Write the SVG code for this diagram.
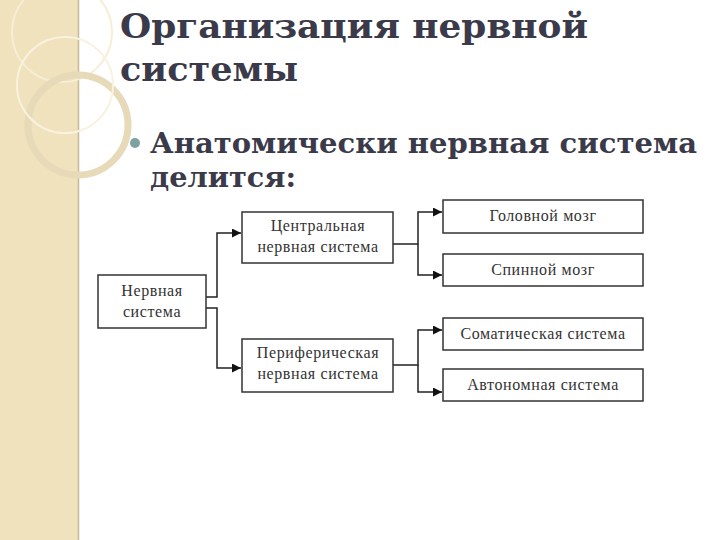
<svg xmlns="http://www.w3.org/2000/svg" width="720" height="540" viewBox="0 0 720 540">
<style>
.t{font-family:"DejaVu Serif","Liberation Serif",serif;font-weight:bold;fill:#3a3a4a}
.b{fill:#fff;stroke:#333;stroke-width:1.5}
.l{font-family:"Liberation Serif",serif;font-size:16px;fill:#333;text-anchor:middle;letter-spacing:0.6px}
.c{fill:none;stroke:#222;stroke-width:1.5}
</style>
<defs><marker id="a" viewBox="0 0 10 10" refX="10" refY="5" markerWidth="10" markerHeight="9" markerUnits="userSpaceOnUse" orient="auto"><path d="M0,0L10,5L0,10z" fill="#111"/></marker></defs>
<rect width="720" height="540" fill="#fff"/>
<g id="sidebar">
<rect width="78" height="540" fill="#efe2bd"/>
<line x1="78.5" y1="0" x2="78.5" y2="540" stroke="#c9b89a" stroke-width="1.5"/>
<circle cx="62" cy="32" r="50" fill="none" stroke="#f6eed6" stroke-width="2"/>
<circle cx="78" cy="125" r="50" fill="none" stroke="#e6dab9" stroke-width="7"/>
<circle cx="65" cy="85" r="48" fill="none" stroke="#f9f2e0" stroke-width="2"/>
</g>
<text class="t" x="120" y="38" font-size="34" textLength="468" lengthAdjust="spacingAndGlyphs">Организация нервной</text>
<text class="t" x="120" y="81" font-size="34" textLength="178" lengthAdjust="spacingAndGlyphs">системы</text>
<circle cx="135" cy="143" r="5" fill="#7fa0a0"/>
<text class="t" x="150" y="153" font-size="27" textLength="547" lengthAdjust="spacingAndGlyphs">Анатомически нервная система</text>
<text class="t" x="150" y="187" font-size="27" textLength="146" lengthAdjust="spacingAndGlyphs">делится:</text>
<g id="connectors">
<path class="c" d="M206,297H217V233H241" marker-end="url(#a)"/>
<path class="c" d="M206,308H217V368H241" marker-end="url(#a)"/>
<path class="c" d="M393,244H418V212H442" marker-end="url(#a)"/>
<path class="c" d="M418,244V275H442" marker-end="url(#a)"/>
<path class="c" d="M393,365H418V330H442" marker-end="url(#a)"/>
<path class="c" d="M418,365V392H442" marker-end="url(#a)"/>
</g>
<g id="n1"><rect class="b" x="98" y="275" width="108" height="53"/><text class="l" x="152" y="296">Нервная</text><text class="l" x="152" y="317">система</text></g>
<g id="n2"><rect class="b" x="242" y="212" width="151" height="51"/><text class="l" x="318" y="231">Центральная</text><text class="l" x="318" y="252">нервная система</text></g>
<g id="n3"><rect class="b" x="242" y="339" width="151" height="53"/><text class="l" x="318" y="358">Периферическая</text><text class="l" x="318" y="379">нервная система</text></g>
<g id="n4"><rect class="b" x="443" y="200" width="200" height="33"/><text class="l" x="543" y="221">Головной мозг</text></g>
<g id="n5"><rect class="b" x="443" y="254" width="200" height="32"/><text class="l" x="543" y="275">Спинной мозг</text></g>
<g id="n6"><rect class="b" x="443" y="318" width="200" height="32"/><text class="l" x="543" y="339">Соматическая система</text></g>
<g id="n7"><rect class="b" x="443" y="369" width="200" height="32"/><text class="l" x="543" y="390">Автономная система</text></g>
</svg>
